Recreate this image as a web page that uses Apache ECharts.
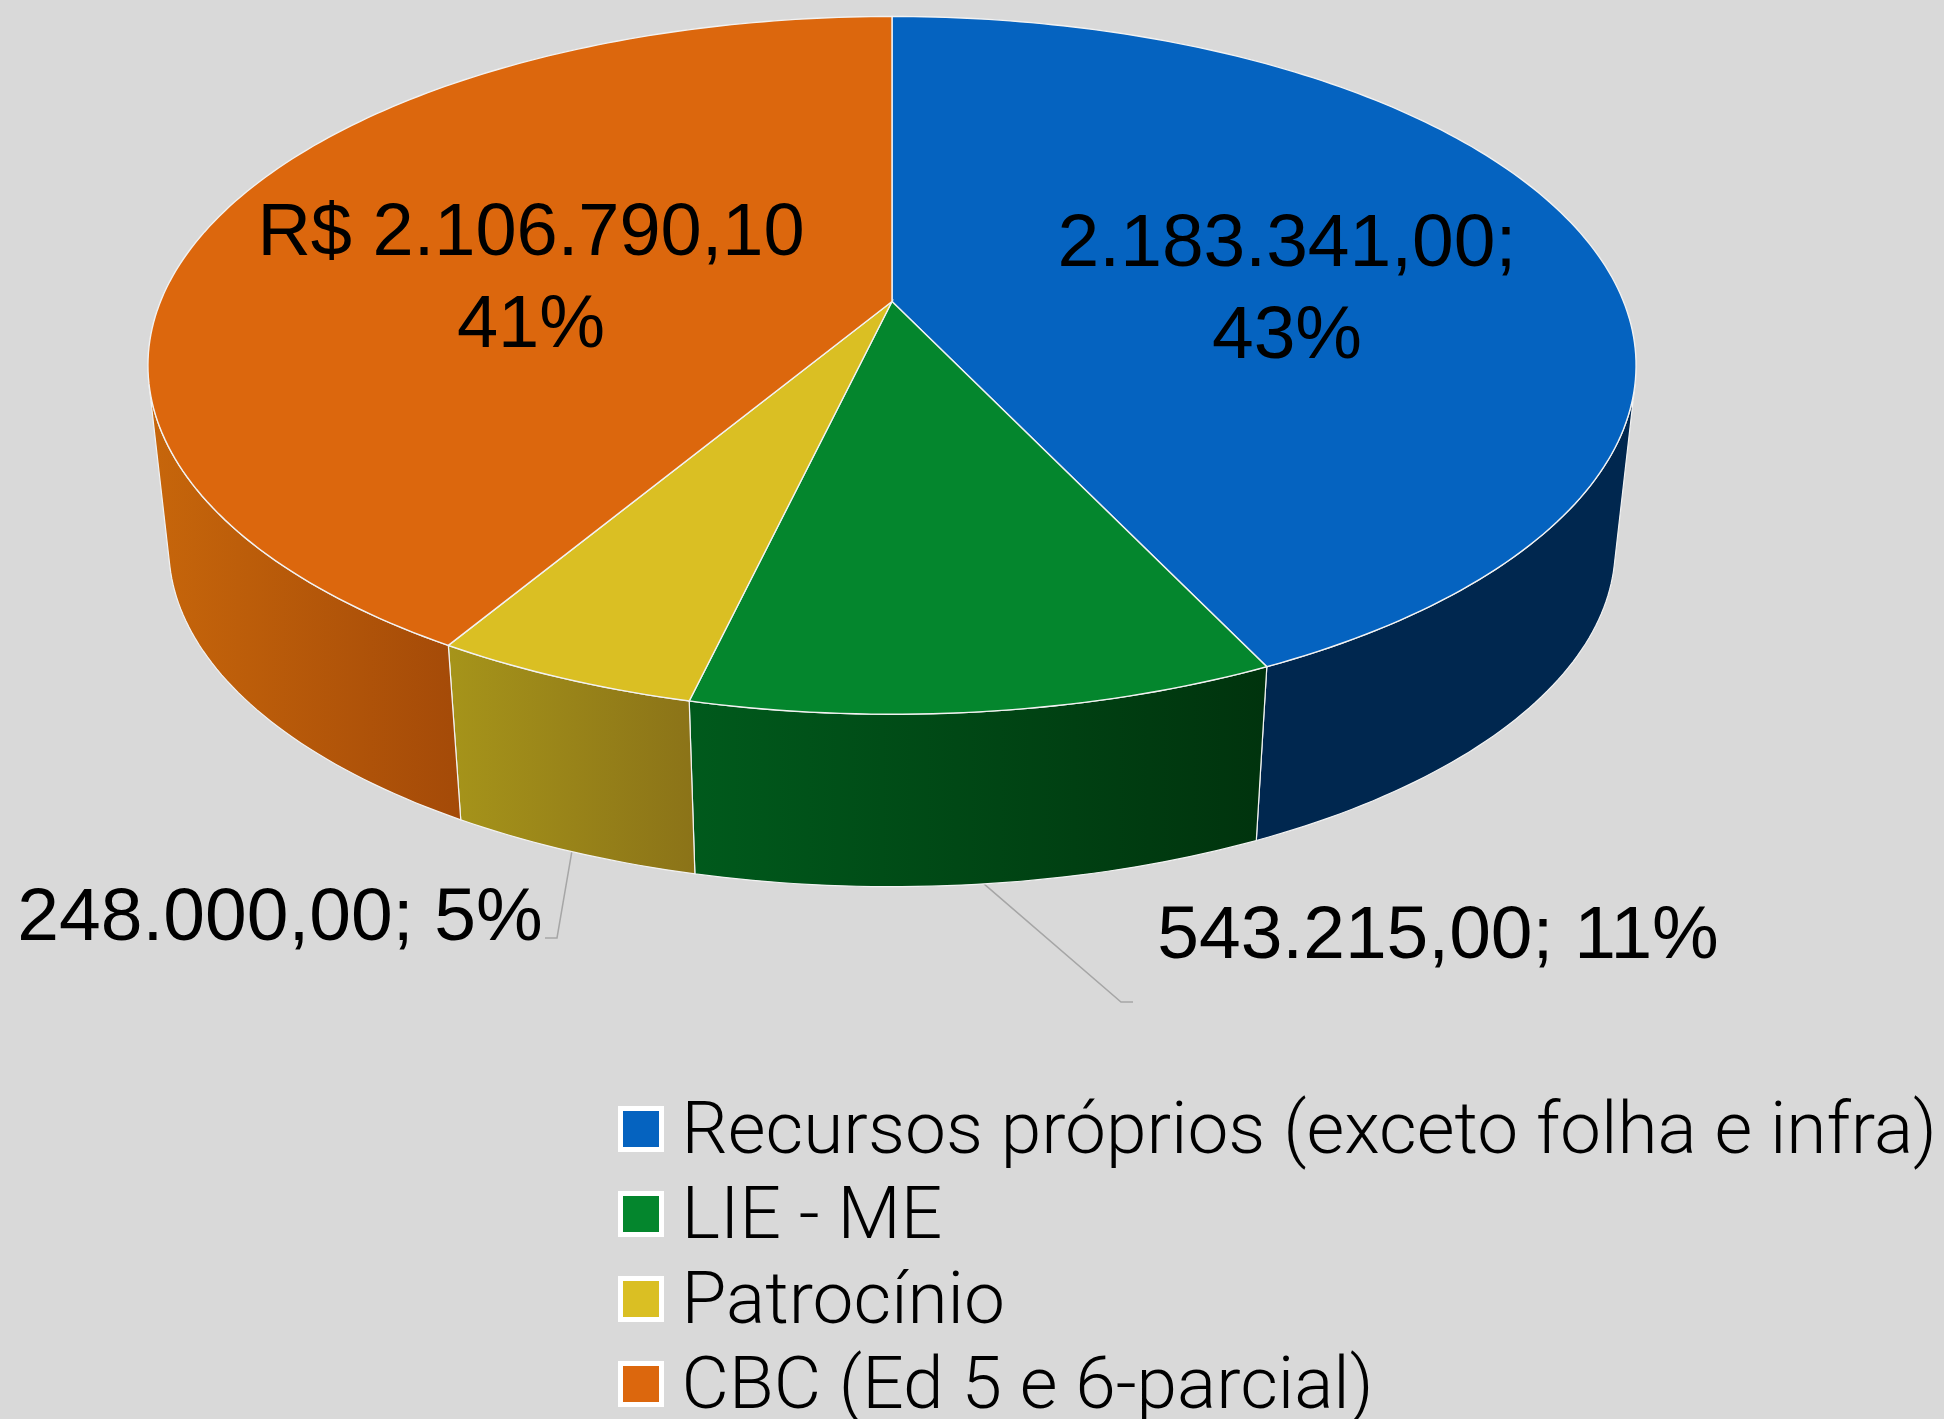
<!DOCTYPE html>
<html>
<head>
<meta charset="utf-8">
<title>Recursos</title>
<style>
  html, body { margin: 0; padding: 0; background: #d9d9d9; overflow: hidden; }
  #chart { width: 1944px; height: 1419px; }
</style>
<script src="https://cdn.jsdelivr.net/npm/echarts@6/dist/echarts.min.js"></script>
</head>
<body>
<div id="chart"></div>
<script>
const categories = ['Recursos próprios (exceto folha e infra)', 'LIE - ME', 'Patrocínio', 'CBC (Ed 5 e 6-parcial)']
const values = [2183341.00, 543215.00, 248000.00, 2106790.10]
const labels = ['2.183.341,00;\n43%', '543.215,00; 11%', '248.000,00; 5%', 'R$ 2.106.790,10\n41%']

const topColors = ['#0563c0', '#04862d', '#dabf23', '#dc670d']
const wallLeft = ['#00274f', '#005a1c', '#a6941a', '#c7660b']
const wallRight = ['#00274f', '#00330d', '#8b7318', '#a44a08']

// where the text goes, and the elbow of the leader line when there is one
const labelPos = [[1287, 291], [1438, 937], [280, 919], [531, 281]]
const labelSize = [75, 75, 75, 74]
const elbows = [null, [[1121, 1002], [1133, 1002]], [[557, 938], [545, 938]], null]

const font = '"Liberation Sans", Arial, sans-serif'
const legendFont = 'Roboto, "Liberation Sans", sans-serif'

// projection of the disc, a circle seen in perspective
const apex = [892, 301.5]
const persp = 0.183
const scaleX = 731.5
const scaleY = 337.2
const lowerScale = 0.972
const lowerShift = 184

const total = values.reduce((a, b) => a + b, 0)

function angleAt(i) {
  let sum = 0
  for (let k = 0; k < i; k++) sum += values[k]
  return sum / total * 360
}

function project(deg, lower) {
  const r = deg * Math.PI / 180
  const v = -Math.cos(r)
  const den = 1 - persp * v
  let x = scaleX * Math.sin(r) / den
  let y = scaleY * v / den
  if (lower) {
    x *= lowerScale
    y = y * lowerScale + lowerShift
  }
  return [apex[0] + x, apex[1] + y]
}

function arc(from, to, lower) {
  const pts = []
  const n = Math.max(2, Math.ceil(to - from))
  for (let k = 0; k <= n; k++) pts.push(project(from + (to - from) * k / n, lower))
  return pts
}

// the wall faces the viewer only between the two silhouette angles
function facesViewer(deg) {
  const a = project(deg, false)
  const b = project(deg + 0.1, false)
  const c = project(deg, true)
  return (b[0] - a[0]) * (c[1] - a[1]) - (b[1] - a[1]) * (c[0] - a[0]) < 0
}
let wallStart = 180
while (facesViewer(wallStart - 0.1)) wallStart -= 0.1
let wallEnd = 180
while (facesViewer(wallEnd + 0.1)) wallEnd += 0.1

function renderSlice(i) {
  const from = angleAt(i)
  const to = angleAt(i + 1)
  const wallFrom = Math.max(from, wallStart)
  const wallTo = Math.min(to, wallEnd)
  const wallTop = arc(wallFrom, wallTo, false)
  const wallBottom = arc(wallFrom, wallTo, true)

  const xs = wallTop.concat(wallBottom).map(p => p[0])
  const wallFill = {
    type: 'linear',
    global: true,
    x: Math.min(...xs),
    y: 0,
    x2: Math.max(...xs),
    y2: 0,
    colorStops: [
      { offset: 0, color: wallLeft[i] },
      { offset: 1, color: wallRight[i] }
    ]
  }

  const children = [
    {
      type: 'polygon',
      z2: 1,
      shape: { points: wallTop.concat(wallBottom.slice().reverse()) },
      style: { fill: wallFill, stroke: '#f2f2f2', lineWidth: 1.2 }
    },
    {
      type: 'polygon',
      z2: 2,
      shape: { points: [apex].concat(arc(from, to, false)) },
      style: { fill: topColors[i], stroke: '#f2f2f2', lineWidth: 1.4 }
    },
    {
      type: 'text',
      z2: 3,
      style: {
        text: labels[i],
        x: labelPos[i][0],
        y: labelPos[i][1],
        fill: '#000',
        font: labelSize[i] + 'px ' + font,
        lineHeight: 92,
        align: 'center',
        verticalAlign: 'middle'
      }
    }
  ]

  if (elbows[i]) {
    children.push({
      type: 'polyline',
      z2: 0,
      shape: { points: [project((from + to) / 2, true)].concat(elbows[i]) },
      style: { fill: 'none', stroke: '#a6a6a6', lineWidth: 1.5 }
    })
  }
  return { type: 'group', children }
}

const chart = echarts.init(document.getElementById('chart'), null, { renderer: 'canvas' })

chart.setOption({
  animation: false,
  backgroundColor: '#d9d9d9',
  legend: {
    orient: 'vertical',
    left: 618,
    top: 1092,
    height: 400,
    padding: 0,
    itemWidth: 41,
    itemHeight: 41,
    itemGap: 0,
    icon: 'rect',
    selectedMode: false,
    itemStyle: { borderColor: '#fff', borderWidth: 5 },
    formatter: name => '{t|' + name + '}',
    textStyle: {
      rich: {
        t: {
          fontFamily: legendFont,
          fontWeight: 300,
          fontSize: 73,
          color: '#000',
          height: 85,
          lineHeight: 96,
          verticalAlign: 'bottom',
          padding: [0, 0, 0, 15]
        }
      }
    },
    data: categories
  },
  series: categories.map((name, i) => ({
    type: 'custom',
    name,
    coordinateSystem: 'none',
    silent: true,
    itemStyle: { color: topColors[i] },
    data: [values[i]],
    renderItem: () => renderSlice(i)
  }))
})
</script>
</body>
</html>
